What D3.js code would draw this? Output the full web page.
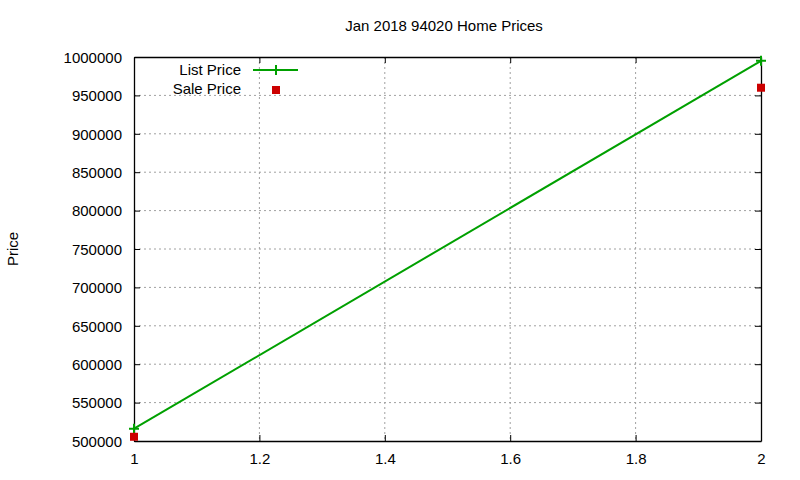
<!DOCTYPE html>
<html><head><meta charset="utf-8">
<script src="https://cdn.jsdelivr.net/npm/d3@7"></script>
<style>body{margin:0;background:#fff}text{font-family:"Liberation Sans",Arial,sans-serif;font-size:16px}</style>
</head><body><svg id="c" width="800" height="480"></svg>
<script>
const xs=[1,2];
const listPrice=[516000,995000];
const salePrice=[505500,960000];
const yTicks=d3.range(500000,1000001,50000);
const xTicks=[1,1.2,1.4,1.6,1.8,2];
const svg=d3.select("#c");
const L=134,R=761,T=57,B=441;
const x=d3.scaleLinear().domain([1,2]).range([L,R]);
const y=d3.scaleLinear().domain([500000,1000000]).range([B,T]);
const g=svg.append("g");
g.selectAll(".gy").data(yTicks.slice(1,-1)).join("line").attr("x1",L).attr("x2",R).attr("y1",d=>y(d)).attr("y2",d=>y(d)).attr("stroke","#a0a0a0").attr("stroke-dasharray","2,3");
g.selectAll(".gx").data(xTicks.slice(1,-1)).join("line").attr("y1",T).attr("y2",B).attr("x1",d=>x(d)).attr("x2",d=>x(d)).attr("stroke","#a0a0a0").attr("stroke-dasharray","2,3");
const ay=svg.append("g").attr("transform",`translate(${L},0)`).call(d3.axisLeft(y).tickValues(yTicks).tickFormat(d3.format("d")).tickSizeInner(-6).tickSizeOuter(0).tickPadding(12));
const ay2=svg.append("g").attr("transform",`translate(${R},0)`).call(d3.axisRight(y).tickValues(yTicks).tickFormat("").tickSizeInner(-6).tickSizeOuter(0));
const ax=svg.append("g").attr("transform",`translate(0,${B})`).call(d3.axisBottom(x).tickValues(xTicks).tickFormat(d3.format("")).tickSizeInner(-6).tickSizeOuter(0).tickPadding(12));
const ax2=svg.append("g").attr("transform",`translate(0,${T})`).call(d3.axisTop(x).tickValues(xTicks).tickFormat("").tickSizeInner(-6).tickSizeOuter(0));
[ay,ay2,ax,ax2].forEach(a=>{a.selectAll("path,line").attr("stroke","#000");a.selectAll("text").attr("fill","#000").style("font-size","15px");a.select(".domain").attr("stroke-width",1.3);});
ay.selectAll("text").attr("dy","0.35em");
const line=d3.line().x((d,i)=>x(xs[i])).y(d=>y(d));
svg.append("path").datum(listPrice).attr("d",line).attr("fill","none").attr("stroke","#00a000").attr("stroke-width",2);
const plus=(sel,cx,cy)=>{sel.append("path").attr("d",`M${cx-5},${cy}H${cx+5}M${cx},${cy-5}V${cy+5}`).attr("stroke","#00a000").attr("stroke-width",2);};
listPrice.forEach((v,i)=>plus(svg,x(xs[i]),y(v)));
svg.selectAll(".sp").data(salePrice).join("rect").attr("x",(d,i)=>x(xs[i])-4).attr("y",d=>y(d)-4).attr("width",8).attr("height",8).attr("fill","#cc0000");
svg.append("text").attr("x",241).attr("y",75).attr("text-anchor","end").style("font-size","15px").text("List Price");
svg.append("line").attr("x1",253).attr("x2",298).attr("y1",70).attr("y2",70).attr("stroke","#00a000").attr("stroke-width",2);
plus(svg,276,70);
svg.append("text").attr("x",241).attr("y",94).attr("text-anchor","end").style("font-size","15px").text("Sale Price");
svg.append("rect").attr("x",272).attr("y",86).attr("width",8).attr("height",8).attr("fill","#cc0000");
svg.append("text").attr("x",444).attr("y",31).attr("text-anchor","middle").style("font-size","15px").text("Jan 2018 94020 Home Prices");
svg.append("text").attr("transform","translate(18,249) rotate(-90)").attr("text-anchor","middle").style("font-size","15px").text("Price");
</script></body></html>
